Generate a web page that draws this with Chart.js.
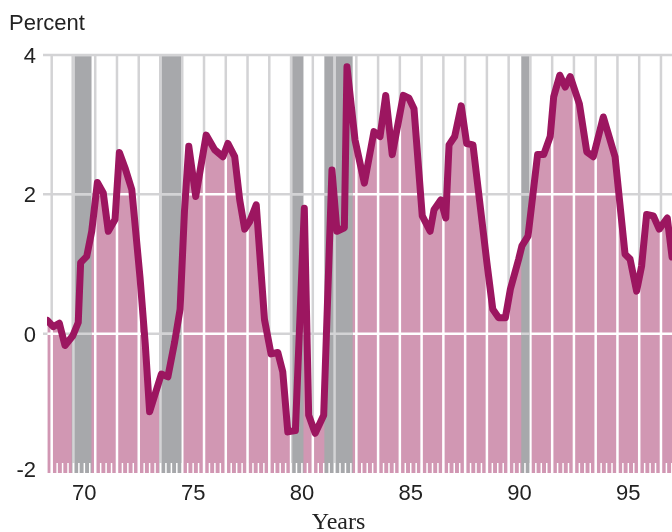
<!DOCTYPE html>
<html>
<head>
<meta charset="utf-8">
<script src="https://cdn.jsdelivr.net/npm/chart.js@4"></script>
<style>
  html, body { margin: 0; padding: 0; background: #fff; }
  canvas { display: block; }
</style>
</head>
<body>
<canvas id="chart" width="672" height="532"></canvas>
<script>
// Quarterly readings (decimal year) and percent values
const years = [
  1968.80, 1969.07, 1969.35, 1969.61, 1969.97, 1970.22, 1970.33, 1970.61, 1970.84,
  1971.10, 1971.37, 1971.60, 1971.91, 1972.11, 1972.37, 1972.68, 1973.06, 1973.30,
  1973.50, 1974.04, 1974.34, 1974.65, 1974.90, 1975.10, 1975.30, 1975.62, 1976.10,
  1976.49, 1976.87, 1977.10, 1977.41, 1977.64, 1977.87, 1978.10, 1978.40, 1978.78,
  1979.08, 1979.39, 1979.62, 1979.85, 1980.20, 1980.61, 1980.81, 1981.11, 1981.50,
  1981.88, 1982.11, 1982.45, 1982.57, 1982.94, 1983.37, 1983.81, 1984.09, 1984.35,
  1984.65, 1985.16, 1985.42, 1985.65, 1986.03, 1986.39, 1986.57, 1986.88, 1987.11,
  1987.26, 1987.52, 1987.82, 1988.07, 1988.36, 1989.00, 1989.27, 1989.54, 1989.85,
  1990.08, 1990.46, 1990.61, 1990.89, 1991.33, 1991.61, 1991.91, 1992.07, 1992.35,
  1992.60, 1992.83, 1993.25, 1993.59, 1993.89, 1994.35, 1994.89, 1995.35, 1995.58,
  1995.88, 1996.11, 1996.34, 1996.65, 1996.92, 1997.29, 1997.51
];
const values = [
  0.19, 0.10, 0.15, -0.17, -0.03, 0.16, 1.02, 1.11, 1.47,
  2.17, 2.02, 1.47, 1.64, 2.60, 2.38, 2.07, 0.80, -0.15,
  -1.12, -0.58, -0.62, -0.12, 0.35, 1.75, 2.69, 1.97, 2.85,
  2.64, 2.54, 2.73, 2.54, 1.92, 1.50, 1.61, 1.85, 0.20,
  -0.29, -0.27, -0.55, -1.41, -1.39, 1.80, -1.17, -1.43, -1.17,
  2.35, 1.47, 1.52, 3.83, 2.78, 2.16, 2.90, 2.83, 3.42,
  2.57, 3.42, 3.38, 3.23, 1.69, 1.47, 1.78, 1.92, 1.66,
  2.71, 2.83, 3.27, 2.73, 2.71, 1.02, 0.35, 0.23, 0.23,
  0.64, 1.07, 1.26, 1.40, 2.57, 2.57, 2.83, 3.40, 3.71,
  3.54, 3.69, 3.30, 2.61, 2.54, 3.11, 2.54, 1.14, 1.07,
  0.61, 0.97, 1.71, 1.69, 1.50, 1.66, 1.10
];

// Shaded recession periods
const recessionStart = [1969.92, 1973.95, 1980.02, 1981.53, 1990.58];
const recessionEnd = [1970.83, 1974.97, 1980.57, 1982.83, 1990.98];

// Axis labels
const xTickYears = [1970, 1975, 1980, 1985, 1990, 1995];
const xTickLabels = ["70", "75", "80", "85", "90", "95"];
const yTicks = [4, 2, 0, -2];
const yTickLabels = ["4", "2", "0", "-2"];

const PINK = "#d197b3";
const LINE = "#9c1660";
const BAND = "#a7a8ab";
const GRID = "#d3d3d5";
const WHITE = "#ffffff";
const SANS = '"Liberation Sans", Arial, Helvetica, sans-serif';

const points = years.map((yr, i) => ({ x: yr, y: values[i] }));

function drawGrid(chart, color) {
  const { ctx, chartArea: a, scales: { x, y } } = chart;
  ctx.strokeStyle = color;
  ctx.lineWidth = 2.5;
  for (let yr = 1969; yr <= 1997; yr++) {
    const px = x.getPixelForValue(yr);
    ctx.beginPath();
    ctx.moveTo(px, a.top);
    ctx.lineTo(px, a.bottom);
    ctx.stroke();
  }
  yTicks.filter(v => v > -2).forEach(v => {
    const py = y.getPixelForValue(v);
    ctx.beginPath();
    ctx.moveTo(a.left - 4, py);
    ctx.lineTo(a.right, py);
    ctx.stroke();
  });
}

function drawBands(chart) {
  const { ctx, chartArea: a, scales: { x } } = chart;
  ctx.fillStyle = BAND;
  recessionStart.forEach((s, i) => {
    const x0 = x.getPixelForValue(s);
    const x1 = x.getPixelForValue(recessionEnd[i]);
    ctx.fillRect(x0, a.top, x1 - x0, a.bottom - a.top);
  });
}

const overlay = {
  id: "overlay",
  beforeDatasetsDraw(chart) {
    const { ctx } = chart;
    ctx.save();
    drawBands(chart);
    drawGrid(chart, GRID);
    ctx.restore();
  },
  afterDatasetDraw(chart, args) {
    if (args.index !== 0) return;
    const { ctx, chartArea: a, scales: { x } } = chart;
    const pts = args.meta.data;

    // white grid and bands inside the filled area
    ctx.save();
    ctx.beginPath();
    ctx.moveTo(pts[0].x, a.bottom);
    pts.forEach(p => ctx.lineTo(p.x, p.y));
    ctx.lineTo(pts[pts.length - 1].x, a.bottom);
    ctx.closePath();
    ctx.clip();
    drawGrid(chart, WHITE);
    drawBands(chart);
    ctx.restore();

    // light grid over the bands
    recessionStart.forEach((s, i) => {
      const x0 = x.getPixelForValue(s);
      const x1 = x.getPixelForValue(recessionEnd[i]);
      ctx.save();
      ctx.beginPath();
      ctx.rect(x0, a.top, x1 - x0, a.bottom - a.top);
      ctx.clip();
      drawGrid(chart, GRID);
      ctx.restore();
    });

    // quarter ticks along the bottom
    ctx.save();
    ctx.strokeStyle = WHITE;
    ctx.lineWidth = 1.5;
    for (let k = 0; k <= 115; k++) {
      const px = x.getPixelForValue(1968.75 + k * 0.25);
      ctx.beginPath();
      ctx.moveTo(px, a.bottom - 10);
      ctx.lineTo(px, a.bottom);
      ctx.stroke();
    }
    ctx.restore();
  },
  afterDraw(chart) {
    const { ctx, chartArea: a, scales: { x, y } } = chart;
    ctx.save();
    ctx.fillStyle = "#222";
    ctx.font = "22px " + SANS;
    ctx.textAlign = "left";
    ctx.textBaseline = "alphabetic";
    ctx.fillText("Percent", 9, 29.5);

    ctx.textAlign = "right";
    ctx.textBaseline = "middle";
    yTicks.forEach((v, i) => {
      const py = Math.min(y.getPixelForValue(v) + 2, a.bottom - 2);
      ctx.fillText(yTickLabels[i], 36, py);
    });

    ctx.textAlign = "center";
    xTickYears.forEach((yr, i) => {
      ctx.fillText(xTickLabels[i], x.getPixelForValue(yr + 0.5), 494);
    });

    ctx.font = '24px "Liberation Serif", "Times New Roman", serif';
    ctx.textBaseline = "alphabetic";
    ctx.fillText("Years", 338.5, 529);
    ctx.restore();
  }
};

new Chart(document.getElementById("chart"), {
  type: "line",
  data: {
    datasets: [
      {
        data: points,
        fill: "start",
        backgroundColor: PINK,
        borderWidth: 0,
        borderColor: "rgba(0,0,0,0)",
        pointRadius: 0,
        order: 2
      },
      {
        data: points,
        fill: false,
        borderColor: LINE,
        borderWidth: 7,
        borderJoinStyle: "round",
        borderCapStyle: "round",
        pointRadius: 0,
        order: 1
      }
    ]
  },
  options: {
    responsive: false,
    animation: false,
    devicePixelRatio: 1,
    layout: { padding: { left: 47, right: 0, top: 55, bottom: 59 } },
    scales: {
      x: { type: "linear", min: 1968.784, max: 1997.507, display: false },
      y: { min: -2, max: 4, display: false }
    },
    plugins: {
      legend: { display: false },
      tooltip: { enabled: false }
    }
  },
  plugins: [overlay]
});
</script>
</body>
</html>
